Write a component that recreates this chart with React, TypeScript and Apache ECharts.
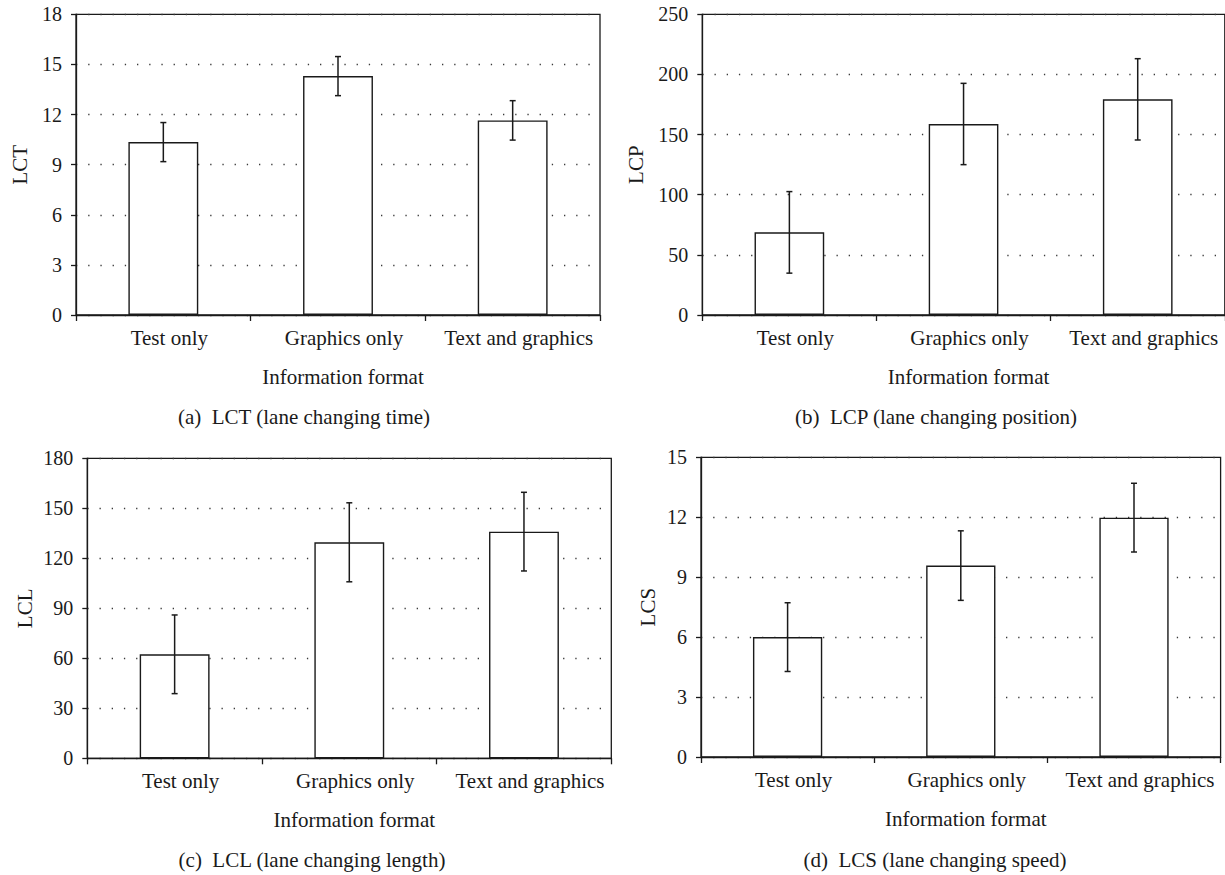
import React, { useEffect, useRef } from "react";
import * as echarts from "echarts";

const categories = ["Test only", "Graphics only", "Text and graphics"];

const lctMeans = [10.35, 14.3, 11.65];
const lctErrors = [1.17, 1.17, 1.18];
const lcpMeans = [68.7, 158.8, 179.3];
const lcpErrors = [33.9, 33.8, 33.8];
const lclMeans = [62.4, 129.6, 136.0];
const lclErrors = [23.6, 23.7, 23.6];
const lcsMeans = [6.0, 9.58, 11.98];
const lcsErrors = [1.72, 1.74, 1.72];

const yTitles = ["LCT", "LCP", "LCL", "LCS"];
const yMax = [18, 250, 180, 15];
const yStep = [3, 50, 30, 3];
const captions = [
  "(a)  LCT (lane changing time)",
  "(b)  LCP (lane changing position)",
  "(c)  LCL (lane changing length)",
  "(d)  LCS (lane changing speed)",
];
const xTitle = "Information format";

const FONT = "'Liberation Serif', 'Times New Roman', serif";
const INK = "#1a1a1a";

export default function App() {
  const ref = useRef<HTMLDivElement>(null);

  useEffect(() => {
    if (!ref.current) return;
    const chart = echarts.init(ref.current, undefined, { renderer: "svg" });

    const means = [lctMeans, lcpMeans, lclMeans, lcsMeans];
    const errors = [lctErrors, lcpErrors, lclErrors, lcsErrors];

    const grids = [
      { left: 76, top: 14.3, width: 524, height: 300.7 },
      { left: 702.3, top: 14.3, width: 522.5, height: 300.7 },
      { left: 87.3, top: 458.3, width: 524, height: 300 },
      { left: 701, top: 457.3, width: 519.6, height: 299.7 },
    ];
    const yNameGaps = [46, 56, 52, 43];
    const captionPos = [
      [304, 416.7],
      [936, 416.7],
      [312, 860],
      [935, 860],
    ];

    const series: any[] = [];
    means.forEach((m, i) => {
      series.push({
        type: "bar",
        xAxisIndex: i,
        yAxisIndex: i,
        data: m,
        barWidth: "40%",
        itemStyle: { color: "#ffffff", borderColor: INK, borderWidth: 1.4 },
        z: 3,
      });
      series.push({
        type: "custom",
        xAxisIndex: i,
        yAxisIndex: i,
        data: m.map((v, k) => [k, v - errors[i][k], v + errors[i][k]]),
        encode: { x: 0, y: [1, 2] },
        z: 5,
        renderItem: (params: any, api: any) => {
          const idx = api.value(0);
          const lo = api.coord([idx, api.value(1)]);
          const hi = api.coord([idx, api.value(2)]);
          const cap = 3;
          const st = { stroke: INK, lineWidth: 1.5 };
          return {
            type: "group",
            children: [
              { type: "line", shape: { x1: hi[0], y1: hi[1], x2: lo[0], y2: lo[1] }, style: st },
              { type: "line", shape: { x1: hi[0] - cap, y1: hi[1], x2: hi[0] + cap, y2: hi[1] }, style: st },
              { type: "line", shape: { x1: lo[0] - cap, y1: lo[1], x2: lo[0] + cap, y2: lo[1] }, style: st },
            ],
          };
        },
      });
    });

    const option: any = {
      animation: false,
      backgroundColor: "#ffffff",
      grid: grids.map((g) => ({
        ...g,
        show: true,
        borderColor: INK,
        borderWidth: 1.3,
        backgroundColor: "transparent",
        containLabel: false,
      })),
      xAxis: grids.map((_, i) => ({
        type: "category",
        gridIndex: i,
        data: categories,
        boundaryGap: true,
        axisLine: { show: true, lineStyle: { color: INK, width: 1.3 } },
        axisTick: { show: true, length: 6, inside: false, alignWithLabel: false, lineStyle: { color: INK, width: 1.3 } },
        axisLabel: { interval: 0, margin: 12, fontFamily: FONT, fontSize: 21, color: INK, padding: [0, 0, 0, 12] },
        splitLine: { show: false },
        name: xTitle,
        nameLocation: "middle",
        nameGap: 51,
        nameTextStyle: { fontFamily: FONT, fontSize: 21, color: INK, verticalAlign: "top", padding: [0, 0, 0, 10] },
      })),
      yAxis: grids.map((_, i) => ({
        type: "value",
        gridIndex: i,
        min: 0,
        max: yMax[i],
        interval: yStep[i],
        axisLine: { show: true, lineStyle: { color: INK, width: 1.3 } },
        axisTick: { show: true, length: 5, inside: false, lineStyle: { color: INK, width: 1.3 } },
        axisLabel: { margin: 14, fontFamily: FONT, fontSize: 20, color: INK },
        splitLine: { show: true, lineStyle: { type: [1.3, 10.9], color: "#3a3a3a", width: 1.3 } },
        name: yTitles[i],
        nameLocation: "middle",
        nameGap: yNameGaps[i],
        nameTextStyle: { fontFamily: FONT, fontSize: 21, color: INK },
      })),
      graphic: captions.map((c, i) => ({
        type: "text",
        x: captionPos[i][0],
        y: captionPos[i][1],
        style: {
          text: c,
          font: `21px ${FONT}`,
          fill: INK,
          align: "center",
          verticalAlign: "middle",
          textAlign: "center",
          textVerticalAlign: "middle",
        },
      })),
      series,
    };

    chart.setOption(option);
    return () => chart.dispose();
  }, []);

  return (
    <div
      ref={ref}
      style={{ position: "absolute", left: 0, top: 0, width: 1225, height: 875, background: "#fff" }}
    />
  );
}
